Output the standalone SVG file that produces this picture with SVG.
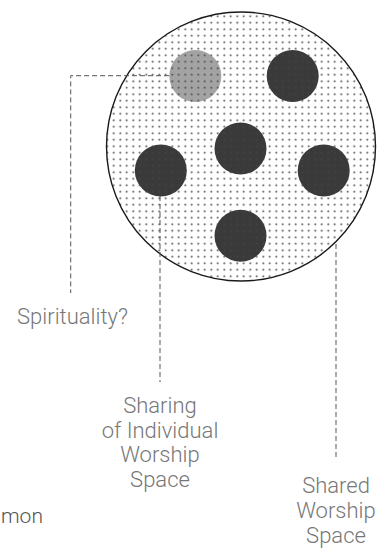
<svg xmlns="http://www.w3.org/2000/svg" width="382" height="550" viewBox="0 0 382 550">
<style>
.lbl{font-family:Roboto,"Liberation Sans",sans-serif;font-weight:300;font-size:22px;fill:#777;text-anchor:middle}
.dash{fill:none;stroke:#555;stroke-width:1;stroke-dasharray:5 3}
.dark{fill:#3a3a3a}
.light{fill:#a3a3a3}
</style>
<defs>
<pattern id="dots" width="6.5" height="6.5" patternUnits="userSpaceOnUse">
<circle cx="3.25" cy="3.25" r="0.95" fill="#444"/>
</pattern>
</defs>
<rect width="382" height="550" fill="#fff"/>
<g id="shared-space">
<circle cx="241" cy="146.5" r="134.5" fill="#fff"/>
</g>
<g id="spirituality-node"><circle class="light" cx="195.3" cy="76" r="26"/></g>
<g id="node-top-right"><circle class="dark" cx="292.7" cy="76" r="26"/></g>
<g id="node-center"><circle class="dark" cx="240.5" cy="148.5" r="26"/></g>
<g id="node-left"><circle class="dark" cx="160.8" cy="170.5" r="26"/></g>
<g id="node-right"><circle class="dark" cx="323.7" cy="170.5" r="26"/></g>
<g id="node-bottom"><circle class="dark" cx="240.5" cy="235.7" r="26"/></g>
<g id="shared-space-overlay">
<circle cx="241" cy="146.5" r="134.5" fill="url(#dots)"/>
<circle cx="241" cy="146.5" r="134.5" fill="none" stroke="#1a1a1a" stroke-width="1.4"/>
</g>
<g id="connectors">
<polyline class="dash" points="169,75.7 70.7,75.7 70.7,293"/>
<line class="dash" x1="160" y1="196" x2="160" y2="382"/>
<line class="dash" x1="336" y1="244" x2="336" y2="460"/>
</g>
<g id="labels">
<text class="lbl" x="72.5" y="324">Spirituality?</text>
<text class="lbl" x="160" y="413">Sharing</text>
<text class="lbl" x="160" y="437.5">of Individual</text>
<text class="lbl" x="160" y="462">Worship</text>
<text class="lbl" x="160" y="486.5">Space</text>
<text class="lbl" x="336" y="493">Shared</text>
<text class="lbl" x="336" y="518">Worship</text>
<text class="lbl" x="336" y="543">Space</text>
<text class="lbl" x="1" y="523" style="text-anchor:start;font-size:21px;fill:#555">mon</text>
</g>
</svg>
